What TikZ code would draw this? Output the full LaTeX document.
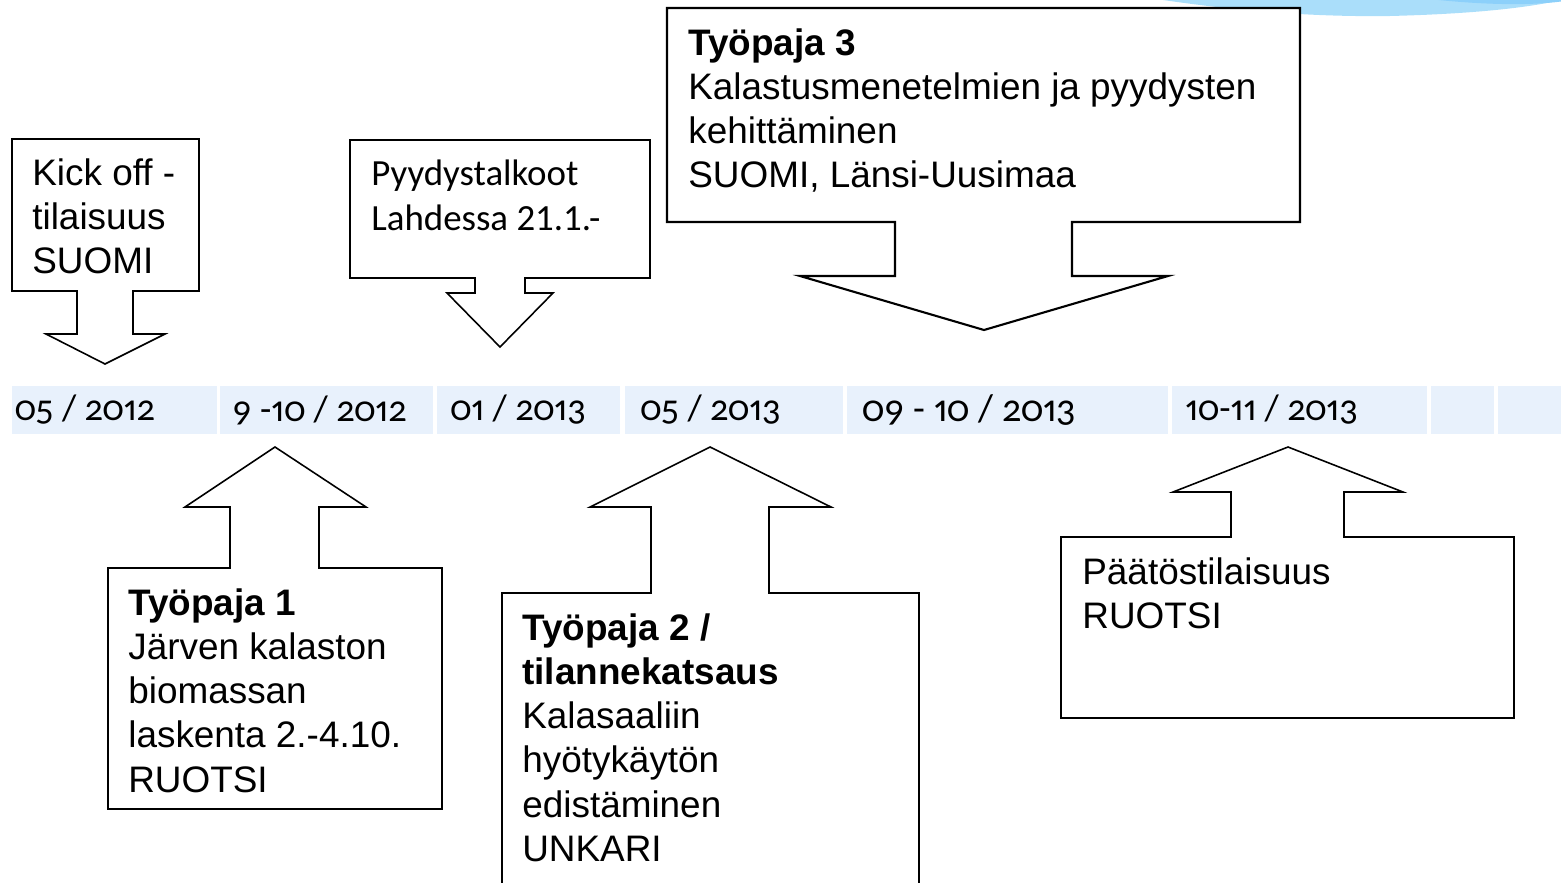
\documentclass[tikz,border=0pt]{standalone}
\usepackage{fontspec}
\setmainfont{Liberation Sans}
\newfontfamily\calibri[Numbers={OldStyle,Proportional}]{Carlito}
\newfontfamily\carlito{Carlito}
\usetikzlibrary{positioning}
\definecolor{cellblue}{RGB}{232,241,252}
\definecolor{waveblue}{RGB}{170,222,250}
\definecolor{wavedark}{RGB}{140,208,250}

\begin{document}
\begin{tikzpicture}[
    x=0.02cm, y=-0.02cm,
    callout/.style={draw, line width=0.9pt, line join=miter, fill=white},
    cell/.style={fill=cellblue, minimum height=0.96cm, inner sep=0, anchor=west},
    date/.style={anchor=west, inner sep=0, font=\calibri\fontsize{21}{24}\selectfont},
    bigdate/.style={date, font=\calibri\fontsize{22}{25}\selectfont},
    info/.style={anchor=north west, inner sep=0, align=left, font=\fontsize{21}{25.2}\selectfont}
]
\useasboundingbox (0,0) rectangle (1561,882);
\clip (0,0) rectangle (1561,882);

% Wave in the corner
\fill[waveblue] (1150,-2) .. controls (1240,12) and (1320,17) .. (1390,16)
    .. controls (1470,14) and (1530,8) .. (1565,-1) -- cycle;
\fill[wavedark] (1420,-2) .. controls (1480,5) and (1530,6) .. (1565,1) -- (1565,-2) -- cycle;

% Timeline
\node[cell, minimum width=4.10cm] (c1) at (12,410) {};
\node[cell, minimum width=4.26cm] (c2) at (220,410) {};
\node[cell, minimum width=3.66cm] (c3) at (437,410) {};
\node[cell, minimum width=4.36cm] (c4) at (625,410) {};
\node[cell, minimum width=6.42cm] (c5) at (847,410) {};
\node[cell, minimum width=5.10cm] (c6) at (1172,410) {};
\node[cell, minimum width=1.26cm] (c7) at (1431,410) {};
\node[cell, minimum width=1.50cm] (c8) at (1498,410) {};

\node[date] (d1) at ([xshift=0.05cm]c1.west) {05 / 2012};
\node[date] (d2) at ([xshift=0.24cm]c2.west) {9 -10 / 2012};
\node[date] (d3) at ([xshift=0.26cm]c3.west) {01 / 2013};
\node[date] (d4) at ([xshift=0.30cm]c4.west) {05 / 2013};
\node[bigdate] (d5) at ([xshift=0.30cm]c5.west) {09 - 10 / 2013};
\node[date] (d6) at ([xshift=0.26cm]c6.west) {10-11 / 2013};

% Callouts above the line
\draw[callout] (12,139) -- (199,139) -- (199,291) -- (133,291) -- (133,334) -- (165,334)
    -- (105,364) -- (46,334) -- (77,334) -- (77,291) -- (12,291) -- cycle;
\node[info] (kickoff) at (32,158) {Kick off -\\tilaisuus\\SUOMI};

\draw[callout] (350,140) -- (650,140) -- (650,278) -- (525,278) -- (525,293) -- (553,293)
    -- (500,347) -- (447,293) -- (475,293) -- (475,278) -- (350,278) -- cycle;
\node[info, font=\carlito\fontsize{21}{25.5}\selectfont] (talkoot) at (371,160) {Pyydystalkoot\\Lahdessa 21.1.-};

\draw[callout, line width=1.2pt] (667,8) -- (1300,8) -- (1300,222) -- (1072,222) -- (1072,276) -- (1168,276)
    -- (984,330) -- (800,276) -- (895,276) -- (895,222) -- (667,222) -- cycle;
\node[info] (tp3) at (688,28) {\textbf{Työpaja 3}\\Kalastusmenetelmien ja pyydysten\\kehittäminen\\SUOMI, Länsi-Uusimaa};

% Callouts below the line
\draw[callout] (108,568) -- (230,568) -- (230,507) -- (185,507) -- (275,447) -- (366,507)
    -- (319,507) -- (319,568) -- (442,568) -- (442,809) -- (108,809) -- cycle;
\node[info] (tp1) at (128,588) {\textbf{Työpaja 1}\\Järven kalaston\\biomassan\\laskenta 2.-4.10.\\RUOTSI};

\draw[callout] (502,593) -- (651,593) -- (651,507) -- (590,507) -- (710,447) -- (831,507)
    -- (769,507) -- (769,593) -- (919,593) -- (919,900) -- (502,900) -- cycle;
\node[info] (tp2) at (522,613) {\textbf{Työpaja 2 /}\\\textbf{tilannekatsaus}\\Kalasaaliin\\hyötykäytön\\edistäminen\\UNKARI};

\draw[callout] (1061,537) -- (1231,537) -- (1231,492) -- (1173,492) -- (1288,447) -- (1403,492)
    -- (1344,492) -- (1344,537) -- (1514,537) -- (1514,718) -- (1061,718) -- cycle;
\node[info] (paatos) at (1082,557) {Päätöstilaisuus\\RUOTSI};

\end{tikzpicture}
\end{document}
